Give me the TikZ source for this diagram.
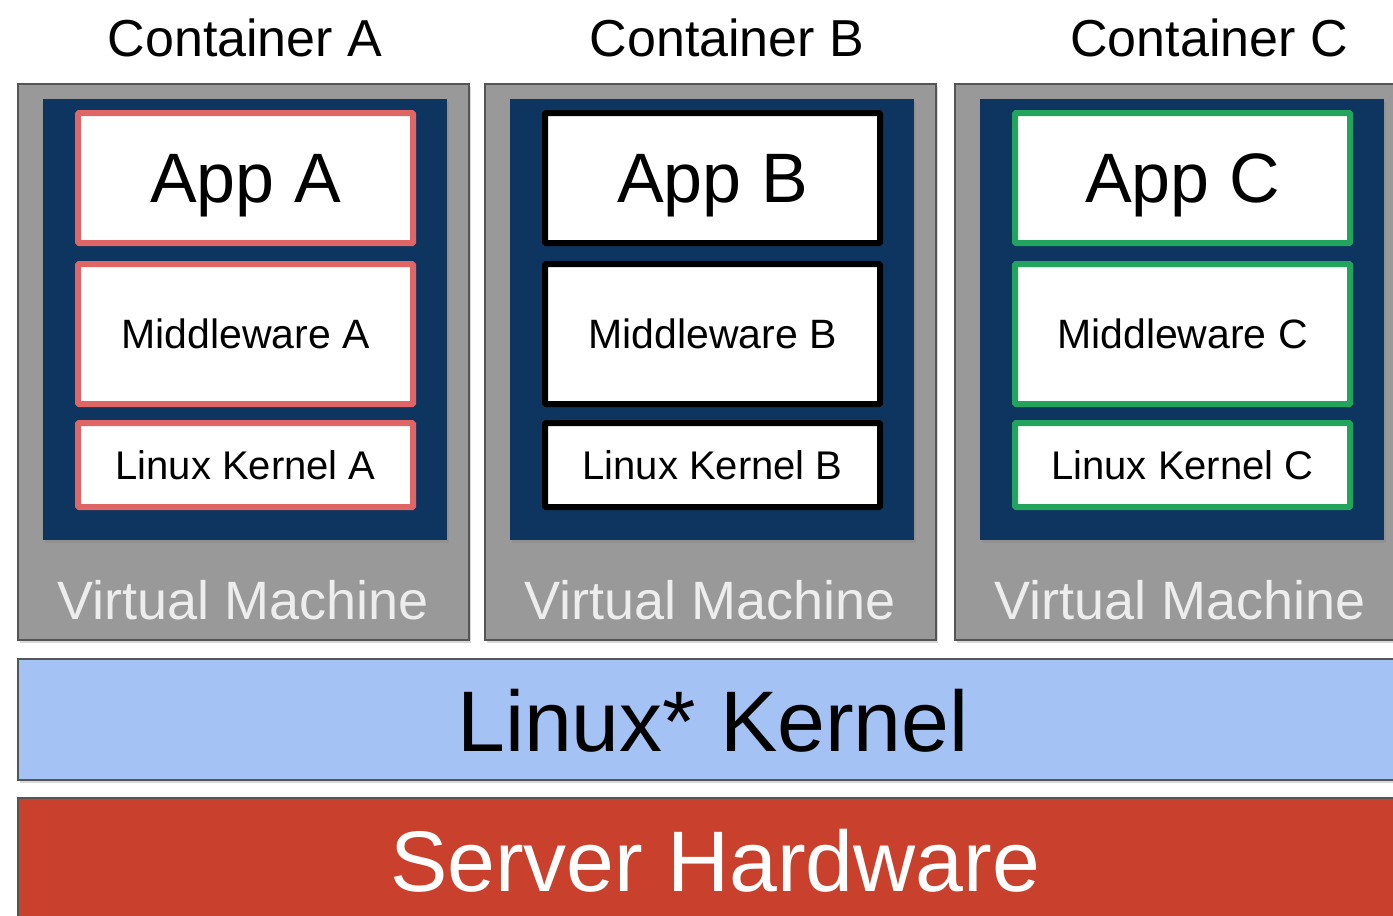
\documentclass[tikz,border=0pt]{standalone}
\usepackage{fontspec}
\setmainfont{Liberation Sans}
\usetikzlibrary{shadows}

\definecolor{vmgray}{HTML}{999999}
\definecolor{vmedge}{HTML}{555555}
\definecolor{osnavy}{HTML}{0D3560}
\definecolor{appred}{HTML}{E06666}
\definecolor{appgreen}{HTML}{22A45D}
\definecolor{kernelblue}{HTML}{A4C2F4}
\definecolor{hwred}{HTML}{C9412C}

\tikzset{
  softshadow/.style={drop shadow={shadow xshift=1.5pt, shadow yshift=-3pt, opacity=0.3}},
  vmbox/.style={draw=vmedge, line width=1.5pt, fill=vmgray, inner sep=0pt,
                minimum width=451pt, minimum height=556pt, softshadow},
  osbox/.style={fill=osnavy, inner sep=0pt, minimum width=404pt,
                minimum height=441pt, softshadow},
  layerbox/.style={fill=white, line width=6pt, rounded corners=1pt, inner sep=0pt,
                   minimum width=335pt, text depth=0pt},
  barbox/.style={draw=vmedge, line width=1.5pt, inner sep=0pt,
                 minimum width=1400pt, softshadow},
  vmlabel/.style={text=white!93!black, text depth=0pt, font=\fontsize{54}{54}\selectfont},
  toplabel/.style={text depth=0pt, font=\fontsize{52}{52}\selectfont},
  biglabel/.style={text depth=0pt, font=\fontsize{86}{86}\selectfont}
}

\begin{document}
\begin{tikzpicture}[x=1pt, y=-1pt]
\clip (0,0) rectangle (1393,916);
\fill [white] (0,0) rectangle (1393,916);

\foreach [count=\i from 0] \l/\c/\dx/\lx in {A/appred/0/245,
                                             B/black/467/727,
                                             C/appgreen/937/1209}
  {
   \node [toplabel, name=ct-\i] at (\lx,38) {Container \l};
   \node [vmbox, name=vm-\i] at (243.5+\dx,362) {};
   \node [vmlabel, name=vmtext-\i] at (243.5+\dx,600) {Virtual Machine};
   \node [osbox, name=os-\i] at (245+\dx,319.5) {};
   \node [layerbox, draw=\c, minimum height=130pt,
          font=\fontsize{70}{70}\selectfont,
          name=app-\i] at (245.5+\dx,178) {App \l};
   \node [layerbox, draw=\c, minimum height=140pt,
          font=\fontsize{41}{41}\selectfont,
          name=mw-\i] at (245.5+\dx,334) {Middleware \l};
   \node [layerbox, draw=\c, minimum height=84pt,
          font=\fontsize{40}{40}\selectfont,
          name=lk-\i] at (245.5+\dx,465) {Linux Kernel \l};
  }

\node [barbox, fill=kernelblue, minimum height=121pt, name=kernel] at (718,719.5) {};
\node [biglabel, name=kerneltext] at (713,720) {Linux* Kernel};
\node [barbox, fill=hwred, minimum height=140pt, name=hw] at (718,868) {};
\node [biglabel, text=white, name=hwtext] at (715,860) {Server Hardware};

\end{tikzpicture}
\end{document}
